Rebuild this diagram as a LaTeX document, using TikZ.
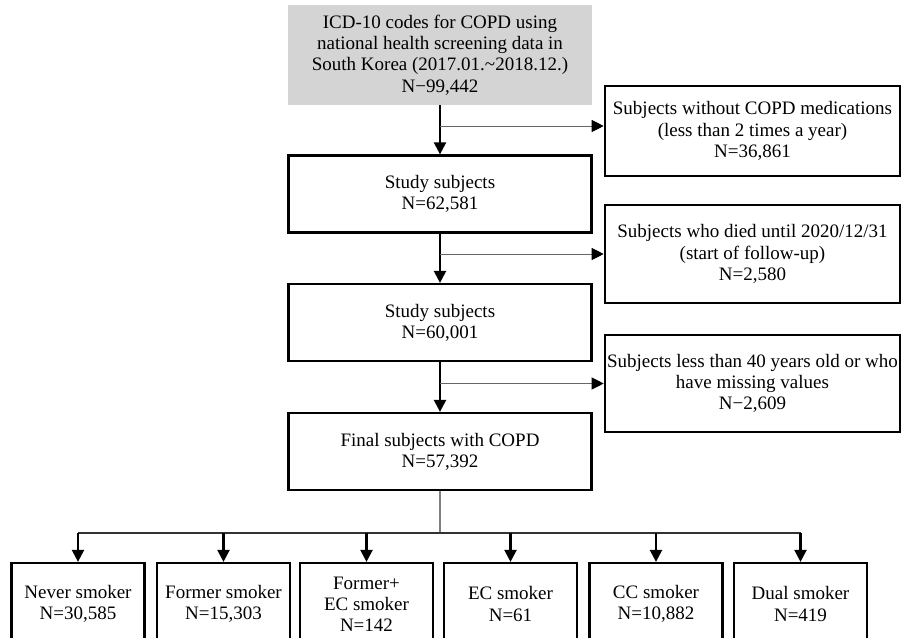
\documentclass[tikz,border=0pt]{standalone}
\usepackage{fontspec}
\setmainfont{Liberation Serif}
\usetikzlibrary{arrows.meta,positioning}

\begin{document}
\begin{tikzpicture}[
    x=0.5pt, y=-0.5pt,
    every node/.style={font=\fontsize{9.5}{10.6}\selectfont, align=center, inner sep=0pt},
    mainbox/.style={draw, line width=1.1pt, minimum width=151.5pt, minimum height=38.5pt},
    sidebox/.style={draw, line width=1.3pt, minimum width=147.5pt},
    groupbox/.style={draw, line width=1.1pt, minimum width=66.5pt, minimum height=41pt},
    flow/.style={line width=1.1pt, -{Triangle[width=6pt,length=6pt]}},
    exclude/.style={line width=0.5pt, draw=black!60, -{Triangle[width=6pt,length=6pt,color=black]}},
]
\clip (0,0) rectangle (902,638);

% main column
\node[fill=black!17, minimum width=152pt, minimum height=50pt] (icd) at (440,55)
    {ICD-10 codes for COPD using\\national health screening data in\\South Korea (2017.01.\textasciitilde2018.12.)\\N−99,442};
\node[mainbox] (study1) at (440,194) {Study subjects\\N=62,581};
\node[mainbox] (study2) at (440,322.5) {Study subjects\\N=60,001};
\node[mainbox] (final) at (440,451.5) {Final subjects with COPD\\N=57,392};

% exclusions
\node[sidebox, minimum height=45pt] (nomed) at (752.5,131)
    {Subjects without COPD medications\\(less than 2 times a year)\\N=36,861};
\node[sidebox, minimum height=49pt] (died) at (752.5,254)
    {Subjects who died until 2020/12/31\\(start of follow-up)\\N=2,580};
\node[sidebox, minimum height=48.5pt] (young) at (752.5,383.5)
    {Subjects less than 40 years old or who\\have missing values\\N−2,609};

% smoking groups
\node[groupbox] (never) at (78,604) {Never smoker\\N=30,585};
\node[groupbox] (former) at (223.5,604) {Former smoker\\N=15,303};
\node[groupbox] (formerec) at (366.5,604) {Former+\\EC smoker\\N=142};
\node[groupbox] (ec) at (510.5,604) {EC smoker\\N=61};
\node[groupbox] (cc) at (656,604) {CC smoker\\N=10,882};
\node[groupbox] (dual) at (800.5,604) {Dual smoker\\N=419};

\coordinate (split) at (440,126);
\coordinate (fork) at (440,533);

\draw[flow] (icd) -- (study1);
\draw[flow] (study1) -- (study2);
\draw[flow] (study2) -- (final);
\draw[exclude] (split) -- (split -| nomed.west);
\draw[exclude] (died.west -| study1.south) -- (died.west);
\draw[exclude] (young.west -| study2.south) -- (young.west);

\draw[line width=0.6pt, black!50] (final) -- (fork);
\draw[line width=0.6pt, black!80] (fork -| never.north) -- (fork -| dual.north);
\foreach \grp in {never,former,formerec,ec,cc,dual}
    \draw[flow] (fork -| \grp.north) -- (\grp.north);
\end{tikzpicture}
\end{document}
